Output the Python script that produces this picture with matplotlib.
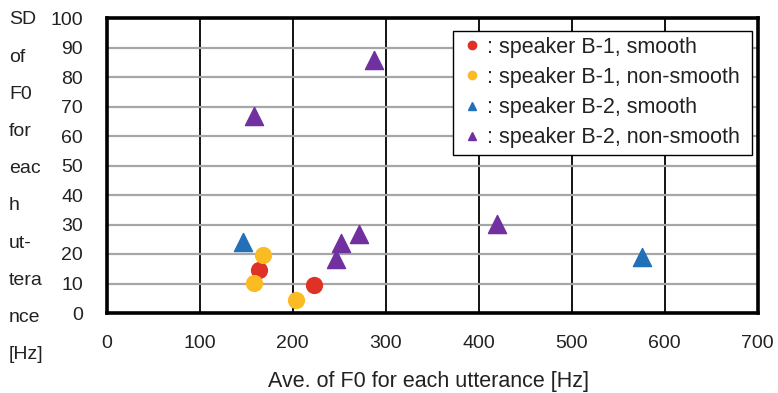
import matplotlib.pyplot as plt
from matplotlib.lines import Line2D

plt.rcParams['font.family'] = ['Liberation Sans', 'DejaVu Sans']

# speaker B-1, smooth
b1_smooth_x = [164, 223]
b1_smooth_y = [14.6, 9.5]
# speaker B-1, non-smooth
b1_nons_x = [168, 158.5, 203.5]
b1_nons_y = [19.7, 10.3, 4.4]
# speaker B-2, smooth
b2_smooth_x = [147, 576]
b2_smooth_y = [24.2, 19.0]
# speaker B-2, non-smooth
b2_nons_x = [158.5, 287.5, 271.5, 252, 247, 420]
b2_nons_y = [66.8, 85.8, 26.8, 23.7, 18.3, 30.2]

ylabel_parts = ["SD", "of", "F0", "for", "eac", "h", "ut-", "tera", "nce", "[Hz]"]
legend_labels = [": speaker B-1, smooth ", ": speaker B-1, non-smooth ",
                 ": speaker B-2, smooth ", ": speaker B-2, non-smooth "]

red = "#e03127"
yellow = "#fbbb22"
blue = "#2270b8"
purple = "#7030a0"
txt = "#222222"

fig = plt.figure(figsize=(7.78, 3.93), dpi=100)
ax = fig.add_axes([106.5 / 778, 80 / 393, 651 / 778, 295 / 393])

ax.scatter(b1_smooth_x, b1_smooth_y, s=130, marker="o", color=red, zorder=3)
ax.scatter(b1_nons_x, b1_nons_y, s=130, marker="o", color=yellow, zorder=3)
ax.scatter(b2_smooth_x, b2_smooth_y, s=170, marker="^", color=blue, zorder=3)
ax.scatter(b2_nons_x, b2_nons_y, s=170, marker="^", color=purple, zorder=3)

ax.set_xlim(0, 700)
ax.set_ylim(0, 100)
ax.set_xticks(range(0, 701, 100))
ax.set_yticks(range(0, 101, 10))
for v in range(100, 700, 100):
    ax.axvline(v, color="black", lw=1.3, zorder=1)
for v in range(10, 100, 10):
    ax.axhline(v, color="#a6a6a6", lw=1.6, zorder=1)

for sp in ax.spines.values():
    sp.set_linewidth(2.6)
    sp.set_color("black")
ax.tick_params(length=0, labelsize=14, colors=txt)
ax.tick_params(axis="x", pad=16)
ax.tick_params(axis="y", pad=17)

fig.text(429 / 778, 1 - 382 / 393, "Ave. of F0 for each utterance [Hz]", fontsize=15.5,
         color=txt, ha="center", va="center")

for i, part in enumerate(ylabel_parts):
    fig.text(9 / 778, 1 - (20 + i * 37.2) / 393, part, fontsize=14, color=txt,
             ha="left", va="center")

handles = [
    Line2D([], [], marker="o", color=red, ls="none", markersize=6),
    Line2D([], [], marker="o", color=yellow, ls="none", markersize=6),
    Line2D([], [], marker="^", color=blue, ls="none", markersize=6),
    Line2D([], [], marker="^", color=purple, ls="none", markersize=6),
]
leg = ax.legend(handles, legend_labels, loc="upper right",
                bbox_to_anchor=(752 / 778, 1 - 30.5 / 393), bbox_transform=fig.transFigure,
                fontsize=15.5, frameon=True, fancybox=False, handlelength=1.16,
                handletextpad=0.12, labelspacing=0.42, borderpad=0.3, borderaxespad=0)
for t in leg.get_texts():
    t.set_color(txt)
leg.get_frame().set_edgecolor("black")
leg.get_frame().set_linewidth(1.0)
leg.get_frame().set_alpha(1)

fig.savefig("out.png", dpi=100)
